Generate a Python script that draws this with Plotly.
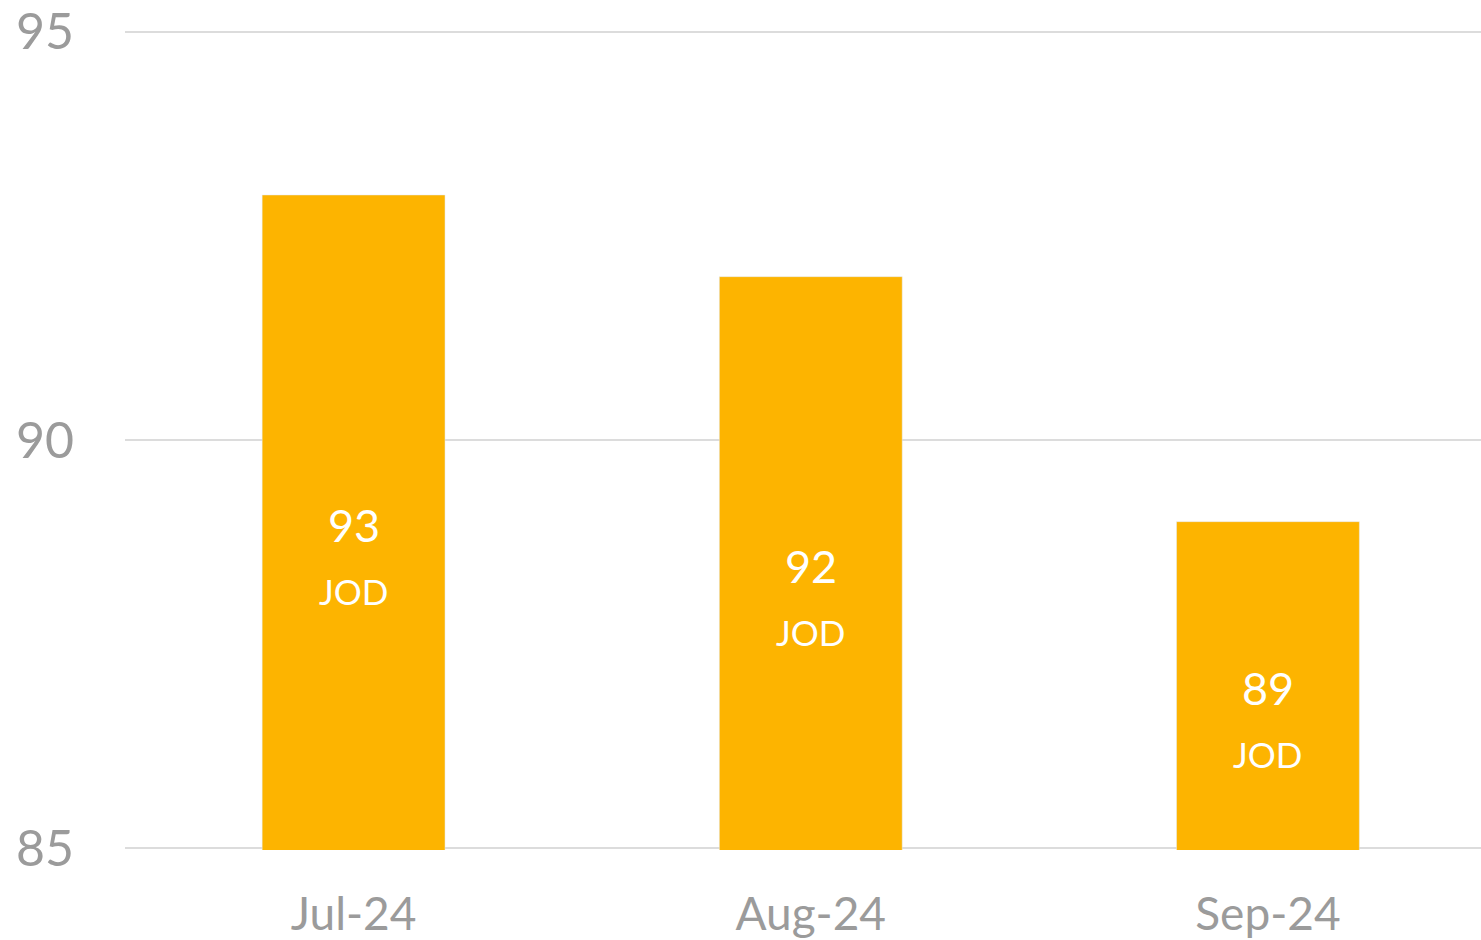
import plotly.graph_objects as go

months = ["Jul-24", "Aug-24", "Sep-24"]
values = [93, 92, 89]
unit = "JOD"
y_ticks = [85, 90, 95]

bar_color = "#FDB400"
grey = "#9B9B9B"
font_family = "Lato, 'Open Sans', sans-serif"

fig = go.Figure()
fig.add_trace(go.Bar(
    x=months, y=values, marker_color=bar_color, width=0.4,
    hoverinfo="skip",
))

base = y_ticks[0]
for m, v in zip(months, values):
    mid = (base + v) / 2
    fig.add_annotation(x=m, y=mid, text=str(v), showarrow=False,
                       font=dict(color="white", size=45, family=font_family),
                       yanchor="middle", yshift=-3)
    fig.add_annotation(x=m, y=mid, text=unit, showarrow=False,
                       font=dict(color="white", size=35, family=font_family),
                       yanchor="middle", yshift=-69)

fig.update_layout(
    width=1481, height=940,
    margin=dict(l=125, r=0, t=28, b=89),
    plot_bgcolor="white", paper_bgcolor="white",
    showlegend=False,
    bargap=0.6,
    font=dict(family=font_family, color=grey),
)
fig.update_xaxes(range=[-0.5, 2.466], showgrid=False, zeroline=False, showline=False,
                 tickfont=dict(size=46, color=grey, family=font_family),
                 ticks="", ticklabelstandoff=33)
fig.update_yaxes(range=[84.98, 95.02], tickvals=y_ticks, showgrid=True, gridcolor="#DCDCDC",
                 gridwidth=2, zeroline=False, showline=False,
                 tickfont=dict(size=50, color=grey, family=font_family),
                 ticks="", ticklabelstandoff=50, ticklabeloverflow="allow")

fig.write_html(
    "out.html",
    config={"displayModeBar": False},
    post_script="document.body.style.margin='0';document.body.style.overflow='hidden';",
)
